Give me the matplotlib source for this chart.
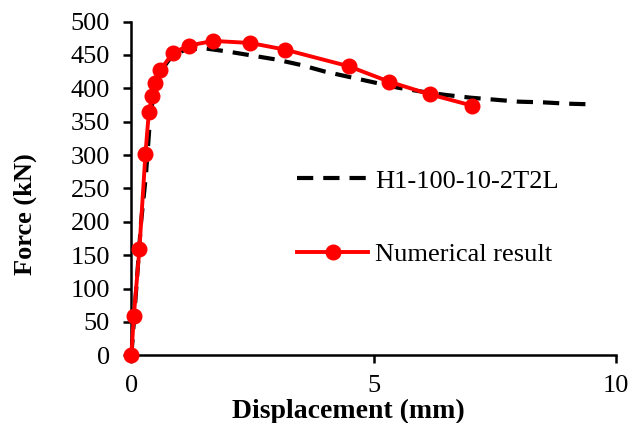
import numpy as np
import matplotlib
matplotlib.use("Agg")
import matplotlib.pyplot as plt

plt.rcParams['font.family'] = ['Liberation Serif', 'DejaVu Serif']

# experimental curve H1-100-10-2T2L
exp_disp = [0, 0.05, 0.12, 0.2, 0.3, 0.37, 0.45, 0.6, 0.8, 1.1, 1.5, 2.0, 2.5, 3.0,
            3.5, 4.0, 4.5, 5.0, 5.5, 6.0, 6.5, 7.0, 7.5, 8.0, 8.5, 9.0, 9.5]
exp_force = [0, 50, 120, 200, 270, 340, 390, 425, 445, 458, 460, 455, 449, 443,
             435, 425, 417, 409, 401, 395, 390, 386, 383, 380, 379, 377, 376]

# numerical result
num_disp = [0, 0.05, 0.165, 0.29, 0.36, 0.43, 0.49, 0.6, 0.86, 1.18, 1.69, 2.45,
            3.17, 4.49, 5.32, 6.16, 7.04]
num_force = [0, 59, 159, 302, 364, 389, 408, 428, 453, 464, 471, 468,
             458, 433, 410, 391, 374]

fig = plt.figure(figsize=(6.41, 4.23), dpi=100)
ax = fig.add_axes([0.205, 0.16, 0.7555, 0.789])

ax.plot(exp_disp, exp_force, color='black', lw=3, dashes=(3.9, 2.4),
        label='H1-100-10-2T2L', zorder=2, clip_on=False)
ax.plot(num_disp, num_force, color='red', lw=2.8, marker='o', markersize=10.5,
        label='Numerical result', zorder=3, clip_on=False)

ax.set_xlim(0, 10)
ax.set_ylim(0, 500)
ax.set_xticks([0, 5, 10])
ax.set_yticks(np.arange(0, 501, 50))
for s in ['top', 'right']:
    ax.spines[s].set_visible(False)
for s in ['left', 'bottom']:
    ax.spines[s].set_linewidth(1.8)
    ax.spines[s].set_zorder(1)
ax.tick_params(axis='both', direction='out', length=5.5, width=1.8, labelsize=19)
ax.tick_params(axis='x', pad=9)
ax.tick_params(axis='y', pad=10)

ax.set_xlabel('Displacement (mm)', fontsize=20, fontweight='bold')
ax.set_ylabel('Force (kN)', fontsize=19, fontweight='bold')
ax.xaxis.set_label_coords(0.449, -0.13)
ax.yaxis.set_label_coords(-0.195, 0.424)

ax.legend(loc='center left', bbox_to_anchor=(0.34 - 12 / 484, 0.4125), frameon=False,
          fontsize=19, handlelength=2.7, handletextpad=0.25, labelspacing=1.9,
          borderpad=0)

fig.savefig('out.png', dpi=100)
